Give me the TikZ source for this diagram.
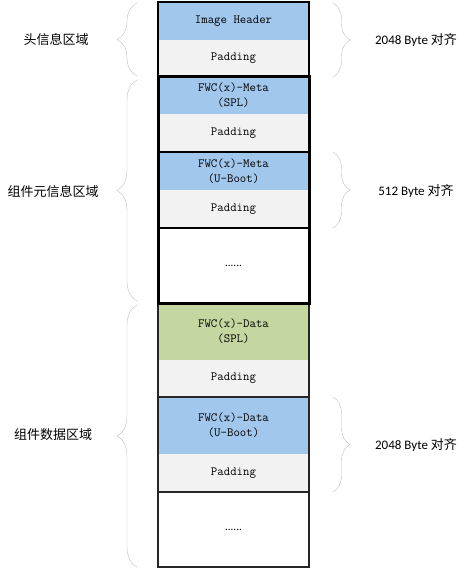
\documentclass[tikz,border=0pt]{standalone}
\usepackage{fontspec}
\setmainfont{Carlito}
\newfontfamily\cjkfont{Noto Sans CJK SC}
\usetikzlibrary{positioning, calc, decorations.pathreplacing}

\definecolor{cellblue}{RGB}{162,199,237}
\definecolor{cellgreen}{RGB}{196,215,161}
\definecolor{cellgray}{RGB}{242,242,242}
\definecolor{bracegray}{RGB}{190,190,190}

\begin{document}
\begin{tikzpicture}[x=1pt, y=1pt, node distance=0pt,
	cell/.style={minimum width=151pt, inner sep=0pt, outer sep=0pt, align=center, font=\ttfamily\fontsize{12.5}{15}\selectfont},
	bluecell/.style={cell, fill=cellblue, minimum height=38pt},
	greencell/.style={cell, fill=cellgreen, minimum height=57pt},
	padcell/.style={cell, fill=cellgray, minimum height=38pt},
	dotcell/.style={cell, fill=white, minimum height=75pt, font=\fontsize{11}{13}\selectfont},
	lbrace/.style={draw=bracegray, thin, decorate, decoration={brace, amplitude=20pt}},
	rbrace/.style={draw=bracegray, thin, decorate, decoration={brace, amplitude=17pt}},
	regiontext/.style={font=\cjkfont\fontsize{13}{15}\selectfont},
	bytetext/.style={font=\fontsize{13}{15}\selectfont}]
	\useasboundingbox (0,0) rectangle (466,-569);

	% Header
	\node[bluecell, anchor=north] (header) at (233.5,-2) {Image Header};
	\node[padcell, minimum height=37pt, below=of header] (hpad) {Padding};

	% Meta
	\node[bluecell, minimum height=37pt, below=of hpad] (metaspl) {FWC(x)-Meta\\(SPL)};
	\node[padcell, below=of metaspl] (mpad1) {Padding};
	\node[bluecell, below=of mpad1] (metaub) {FWC(x)-Meta\\(U-Boot)};
	\node[padcell, below=of metaub] (mpad2) {Padding};
	\node[dotcell, below=of mpad2] (mdots) {......};

	% Data
	\node[greencell, below=of mdots] (dataspl) {FWC(x)-Data\\(SPL)};
	\node[padcell, minimum height=37pt, below=of dataspl] (dpad1) {Padding};
	\node[greencell, fill=cellblue, below=of dpad1] (dataub) {FWC(x)-Data\\(U-Boot)};
	\node[padcell, below=of dataub] (dpad2) {Padding};
	\node[dotcell, below=of dpad2] (ddots) {......};

	% Borders
	\draw[line width=2pt] (header.north west) rectangle (hpad.south east);
	\draw[line width=2pt, black!85] (dataspl.north west) rectangle (ddots.south east);
	\draw[line width=2pt, black!85] (dpad1.south west) -- (dpad1.south east);
	\draw[line width=2pt, black!85] (dpad2.south west) -- (dpad2.south east);
	\draw[line width=2pt] (mpad1.south west) -- (mpad1.south east);
	\draw[line width=2pt] (mpad2.south west) -- (mpad2.south east);
	\draw[line width=3pt] (metaspl.north west) rectangle (mdots.south east);

	% Braces
	\draw[lbrace] ($(hpad.south west)+(-21,1)$) -- ($(header.north west)+(-21,-1)$);
	\draw[lbrace] ($(mdots.south west)+(-21,2)$) -- ($(metaspl.north west)+(-21,-3)$);
	\draw[lbrace] ($(ddots.south west)+(-21,0)$) -- ($(dataspl.north west)+(-21,-2)$);
	\draw[rbrace] ($(header.north east)+(24,-1)$) -- ($(hpad.south east)+(24,0)$);
	\draw[rbrace] ($(metaub.north east)+(24,0)$) -- ($(mpad2.south east)+(24,0)$);
	\draw[rbrace] ($(dataub.north east)+(24,0)$) -- ($(dpad2.south east)+(24,0)$);

	% Labels
	\node[regiontext] (hlabel) at (56,-40) {头信息区域};
	\node[regiontext] (mlabel) at (53,-192) {组件元信息区域};
	\node[regiontext] (dlabel) at (53,-435) {组件数据区域};
	\node[bytetext] (halign) at (416,-40) {2048 Byte \cjkfont 对齐};
	\node[bytetext] (malign) at (416,-191) {512 Byte \cjkfont 对齐};
	\node[bytetext] (dalign) at (416,-445) {2048 Byte \cjkfont 对齐};
\end{tikzpicture}
\end{document}
